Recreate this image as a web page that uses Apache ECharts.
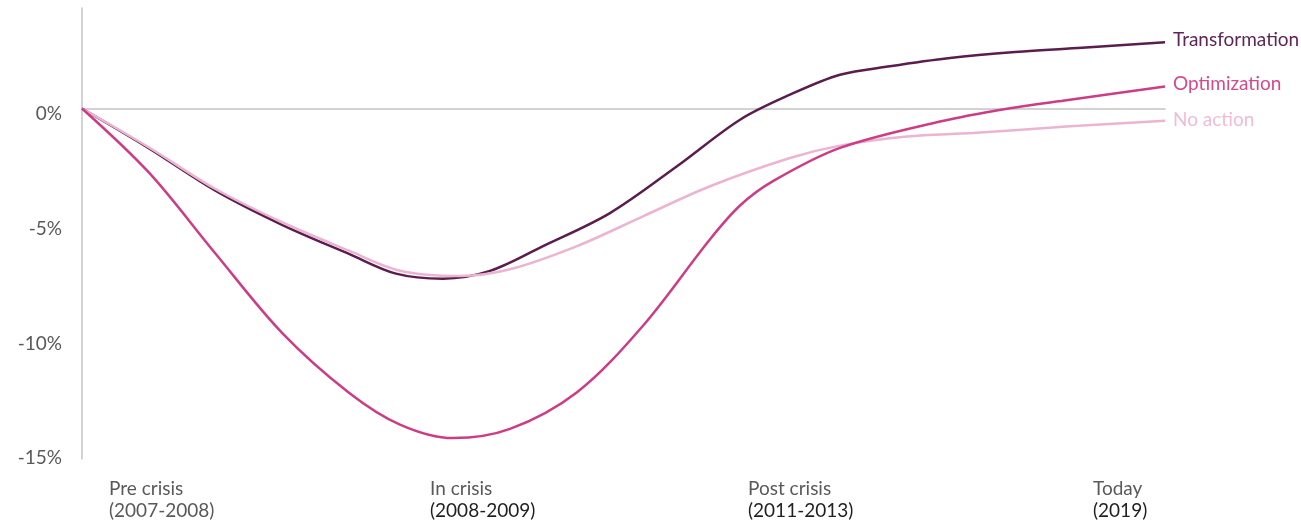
<!DOCTYPE html>
<html>
<head>
<meta charset="utf-8">
<script src="https://cdn.jsdelivr.net/npm/echarts@6/dist/echarts.min.js"></script>
<style>
  html, body { margin: 0; padding: 0; background: #ffffff; }
  #chart { width: 1301px; height: 524px; }
</style>
</head>
<body>
<div id="chart"></div>
<script>
// x runs from 0 (start of pre crisis) to 100 (today), y in %
const phases = ["Pre crisis", "In crisis", "Post crisis", "Today"];
const periods = ["(2007-2008)", "(2008-2009)", "(2011-2013)", "(2019)"];
const yTicks = [-15, -10, -5, 0];

const transformationX = [0, 6.19, 12.28, 18.47, 24.65, 28.99, 33.33, 37.67, 42.57, 48.75, 54.94, 60.76, 65.37, 69.99, 74.61, 80.15, 86.15, 92.34, 100];
const transformation = [0, -1.74, -3.57, -5.07, -6.34, -7.2, -7.42, -7.08, -6.0, -4.56, -2.52, -0.49, 0.6, 1.47, 1.84, 2.2, 2.46, 2.65, 2.89];

const noActionX = [0, 6.19, 12.28, 18.47, 24.65, 29.36, 34.9, 39.52, 45.71, 51.8, 57.99, 65.37, 69.99, 76.18, 82.27, 91.23, 100];
const noAction = [0, -1.7, -3.5, -4.96, -6.2, -7.07, -7.3, -7.01, -6.0, -4.7, -3.39, -2.16, -1.62, -1.22, -1.07, -0.78, -0.53];

const optimizationX = [0, 6.19, 12.28, 18.47, 24.65, 29.36, 34.26, 39.52, 45.71, 51.8, 57.99, 60.76, 63.8, 69.99, 79.22, 85.41, 91.23, 100];
const optimization = [0, -2.8, -6.3, -9.78, -12.39, -13.78, -14.37, -13.97, -12.37, -9.47, -5.7, -4.23, -3.17, -1.72, -0.57, -0.01, 0.38, 0.96];

const FONT = "Lato, 'Noto Sans', sans-serif";
const labelWidths = [106, 104, 108, 58];

const rich = {};
labelWidths.forEach((w, i) => {
  rich["n" + i] = { width: w, align: "left", color: "#595959", fontSize: 19, fontFamily: FONT, lineHeight: 22 };
  rich["y" + i] = { width: w, align: "left", color: i === 0 ? "#595959" : "#1f1f1f", fontSize: 19, fontFamily: FONT, lineHeight: 22 };
});

const chart = echarts.init(document.getElementById("chart"));

const lineSeries = (name, xs, values, color, labelColor, dy) => ({
  name: name,
  type: "line",
  xAxisIndex: 0,
  yAxisIndex: 0,
  data: values.map((v, i) => [xs[i], v]),
  smooth: 0.33,
  showSymbol: false,
  lineStyle: { color: color, width: 2.5 },
  itemStyle: { color: color },
  endLabel: {
    show: true,
    formatter: "{a}",
    color: labelColor,
    fontSize: 19,
    fontFamily: FONT,
    distance: 8,
    offset: [0, dy]
  },
  emphasis: { disabled: true }
});

chart.setOption({
  animation: false,
  textStyle: { fontFamily: FONT },
  grid: [
    { left: 82, right: 136, top: 8, bottom: 65 },
    { left: 2, right: 19, top: 459, height: 1 }
  ],
  xAxis: [
    {
      type: "value",
      gridIndex: 0,
      min: 0,
      max: 100,
      axisLine: { show: true, onZero: true, lineStyle: { color: "#c4c4c4", width: 1.5 } },
      axisTick: { show: false },
      axisLabel: { show: false },
      splitLine: { show: false }
    },
    {
      type: "category",
      gridIndex: 1,
      data: phases,
      boundaryGap: true,
      axisLine: { show: false },
      axisTick: { show: false },
      splitLine: { show: false },
      axisLabel: {
        margin: 18,
        interval: 0,
        formatter: (v, i) => `{n${i}|${v}}\n{y${i}|${periods[i]}}`,
        rich: rich
      }
    }
  ],
  yAxis: [
    {
      type: "value",
      gridIndex: 0,
      min: -15.28,
      max: 4.38,
      axisLine: { show: true, onZero: false, lineStyle: { color: "#c4c4c4", width: 1.5 } },
      axisTick: { show: false },
      splitLine: { show: false },
      axisLabel: {
        customValues: yTicks,
        formatter: (v) => v + "%",
        color: "#595959",
        fontSize: 19,
        fontFamily: FONT,
        margin: 20,
        verticalAlign: "top",
        lineHeight: 11
      }
    },
    {
      type: "value",
      gridIndex: 1,
      show: false
    }
  ],
  series: [
    lineSeries("Transformation", transformationX, transformation, "#5a1d4e", "#5e2656", -2),
    lineSeries("No action", noActionX, noAction, "#ebb4d0", "#efbcd7", -1),
    lineSeries("Optimization", optimizationX, optimization, "#cc3d86", "#d04a8f", -3)
  ]
});
</script>
</body>
</html>
